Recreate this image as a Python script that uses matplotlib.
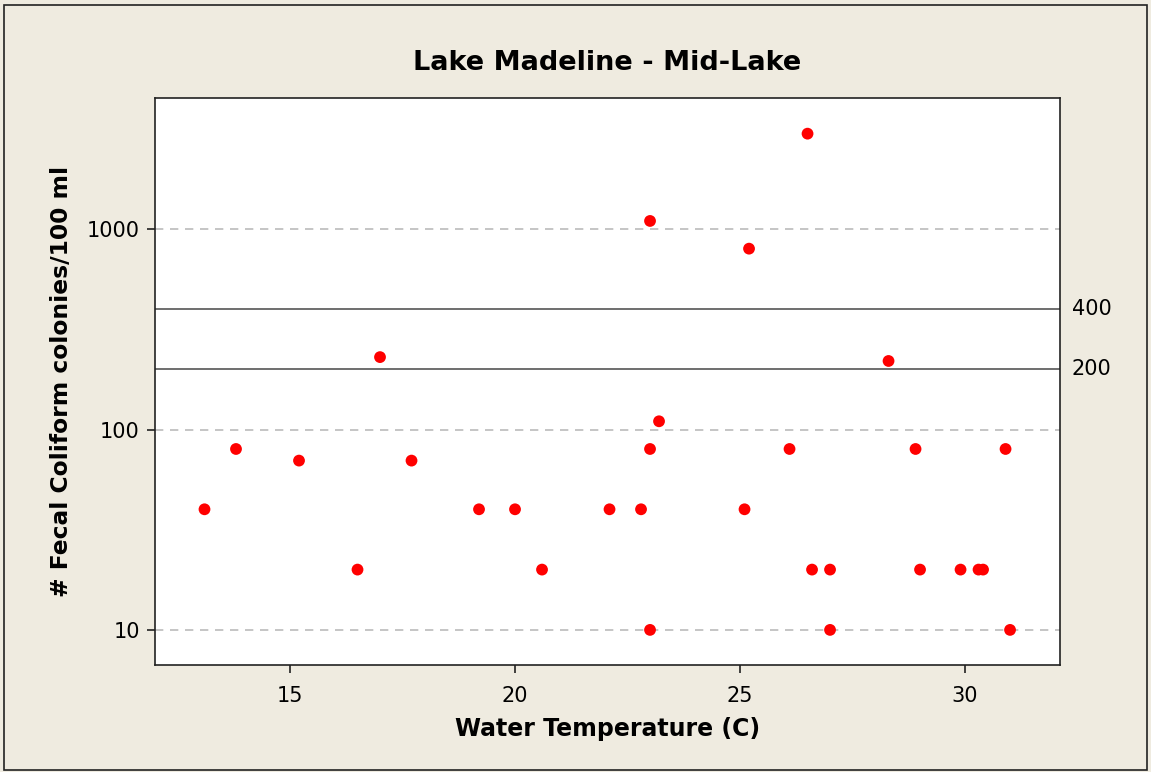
import matplotlib
matplotlib.use('Agg')
import matplotlib.pyplot as plt
from matplotlib.patches import Rectangle
from matplotlib.ticker import FixedLocator, NullLocator

plt.rcParams['font.family'] = ['DejaVu Sans']

# Water temperature (C) and fecal coliform counts at the mid-lake site
temperature = [13.1, 13.8, 15.2, 16.5, 17.0, 17.7, 19.2, 20.0, 20.6, 22.1,
               22.8, 23.0, 23.0, 23.0, 23.2, 25.1, 25.2, 26.5, 26.1, 26.6,
               27.0, 27.0, 28.3, 28.9, 29.0, 29.9, 30.3, 30.4, 30.9, 31.0]
coliform = [40, 80, 70, 20, 230, 70, 40, 40, 20, 40,
            40, 1100, 80, 10, 110, 40, 800, 3000, 80, 20,
            20, 10, 220, 80, 20, 20, 20, 20, 80, 10]

ref_levels = [400, 200]
y_ticks = [10, 100, 1000]
x_ticks = [15, 20, 25, 30]

bg = '#EFEBE0'

fig = plt.figure(figsize=(11.51, 7.72), dpi=100, facecolor=bg)
fig.patches.append(Rectangle((4 / 1151, 2 / 772), 1143 / 1151, 765 / 772,
                             transform=fig.transFigure, fill=False,
                             edgecolor='#222222', linewidth=1.2))

ax = fig.add_axes([155 / 1151, 1 - 665 / 772, 905 / 1151, 567 / 772])
ax.set_facecolor('white')

ax.scatter(temperature, coliform, s=72, color='#FF0000', edgecolor='none', zorder=3)

ax.set_yscale('log')
ax.set_xlim(12.0, 32.11)
ax.set_ylim(6.68, 4520)

for lvl in y_ticks:
    ax.axhline(lvl, color='#BBBBBB', linestyle=(0, (5, 4)), linewidth=1.2, zorder=1)
for lvl in ref_levels:
    ax.axhline(lvl, color='#555555', linewidth=1.2, zorder=2)
    ax.text(1.013, lvl, str(lvl), transform=ax.get_yaxis_transform(),
            va='center', ha='left', fontsize=15)

ax.yaxis.set_major_locator(FixedLocator(y_ticks))
ax.yaxis.set_minor_locator(NullLocator())
ax.set_yticklabels([str(t) for t in y_ticks])
ax.set_xticks(x_ticks)
ax.tick_params(axis='both', direction='out', length=6, width=1.2,
               labelsize=15, colors='#222222', labelcolor='black')
ax.tick_params(axis='y', pad=5)
ax.tick_params(axis='x', pad=9)

for sp in ax.spines.values():
    sp.set_linewidth(1.2)
    sp.set_color('#222222')

ax.set_title('Lake Madeline - Mid-Lake', fontsize=19.5, fontweight='bold', pad=20)
ax.set_xlabel('Water Temperature (C)', fontsize=17, fontweight='bold', labelpad=8)
ax.set_ylabel('# Fecal Coliform colonies/100 ml', fontsize=16.8, fontweight='bold', labelpad=10)

fig.savefig('out.png', dpi=100, facecolor=bg)
